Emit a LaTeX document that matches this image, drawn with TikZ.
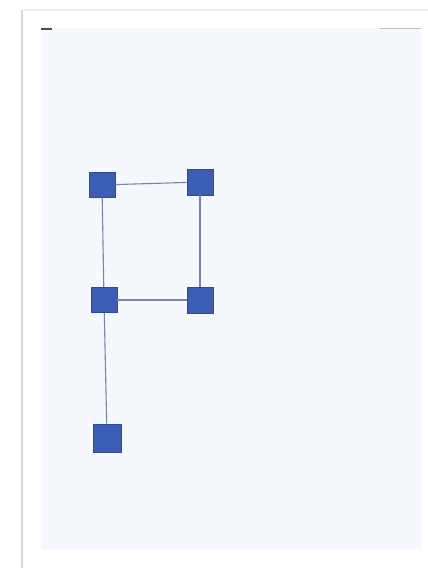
\documentclass[tikz,border=0pt]{standalone}
\definecolor{pagebg}{HTML}{F5F9FD}
\definecolor{sqfill}{HTML}{3B5DB5}
\definecolor{sqedge}{HTML}{2E4A99}
\definecolor{linkc}{HTML}{7A86A8}
\definecolor{shadowc}{HTML}{D4D4D4}
\tikzset{
  sq/.style={draw=sqedge, fill=sqfill, line width=0.6pt, minimum width=26pt, minimum height=25pt, inner sep=0pt},
  link/.style={draw=linkc, line width=1.1pt}
}
\begin{document}
\begin{tikzpicture}[x=1pt,y=-1pt]
\useasboundingbox (0,0) rectangle (428,568);
\fill[white] (0,0) rectangle (428,568);
\fill[shadowc] (21,10) rectangle (23,568);
\fill[black!6] (23,9) rectangle (428,11);
\fill[pagebg] (41,28) rectangle (421,549);
\fill[black!70] (41,28) rectangle (52,30);
\fill[black!25] (380,28) rectangle (421,29);
\node[sq] (a) at (102,185) {};
\node[sq, minimum height=26pt] (b) at (200,182) {};
\node[sq] (c) at (104,300) {};
\node[sq, minimum height=26pt] (d) at (200,300) {};
\node[sq, minimum width=28pt, minimum height=28pt] (e) at (107,438) {};
\draw[link] (a) -- (b);
\draw[link] (a) -- (c);
\draw[link] (b) -- (d);
\draw[link] (c) -- (d);
\draw[link] (c) -- (e);
\end{tikzpicture}
\end{document}
